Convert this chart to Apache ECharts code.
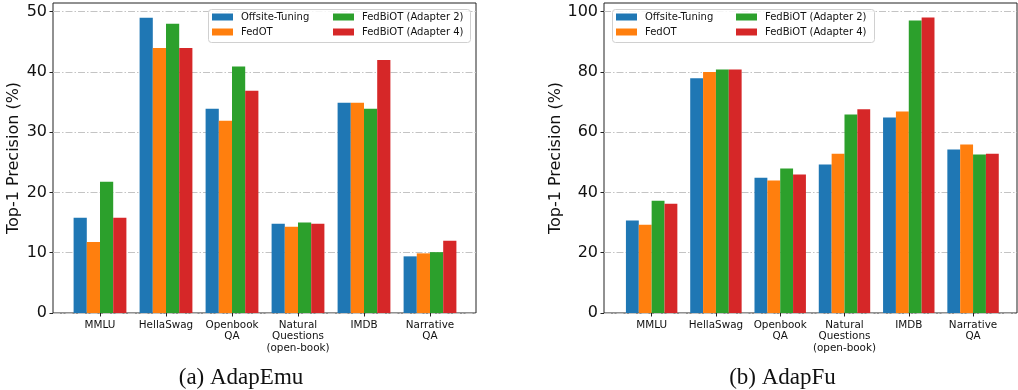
<!DOCTYPE html>
<html>
<head>
<meta charset="utf-8">
<script src="https://cdn.jsdelivr.net/npm/echarts@6/dist/echarts.min.js"></script>
<style>html,body{margin:0;padding:0;background:#fff;}#c{width:1018px;height:390px;}</style>
</head>
<body>
<div id="c"></div>
<script>
const categories = ['MMLU', 'HellaSwag', 'Openbook\nQA', 'Natural\nQuestions\n(open-book)', 'IMDB', 'Narrative\nQA'];
const seriesNames = ['Offsite-Tuning', 'FedOT', 'FedBiOT (Adapter 2)', 'FedBiOT (Adapter 4)'];
const colors = ['#1f77b4', '#ff7f0e', '#2ca02c', '#d62728'];

// (a) AdapEmu
const emuOffsite = [15.8, 49.0, 33.9, 14.8, 34.9, 9.4];
const emuFedOT   = [11.8, 44.0, 31.9, 14.3, 34.9, 9.9];
const emuAd2     = [21.8, 48.0, 40.9, 15.0, 33.9, 10.1];
const emuAd4     = [15.8, 44.0, 36.9, 14.8, 42.0, 12.0];
// (b) AdapFu
const fuOffsite = [30.7, 77.9, 44.9, 49.3, 64.9, 54.3];
const fuFedOT   = [29.3, 80.0, 44.0, 52.9, 66.9, 55.9];
const fuAd2     = [37.3, 80.8, 48.0, 65.9, 97.1, 52.6];
const fuAd4     = [36.3, 80.8, 46.0, 67.6, 98.1, 52.9];

const emuTicks = [0, 10, 20, 30, 40, 50];
const fuTicks = [0, 20, 40, 60, 80, 100];
const emuMax = 51.45;
const fuMax = 102.9;

const chart = echarts.init(document.getElementById('c'), null, {renderer: 'canvas'});
const font = 'DejaVu Sans';

function frameY(gridIndex, max, ticks, nameGap) {
  return {
    type: 'value', gridIndex: gridIndex, min: 0, max: max,
    interval: ticks[1] - ticks[0],
    name: 'Top-1 Precision (%)', nameLocation: 'middle', nameGap: nameGap,
    nameTextStyle: {fontFamily: font, fontSize: 16, color: '#111'},
    axisLine: {show: false},
    axisTick: {show: true, inside: false, length: 3.5, lineStyle: {color: '#222', width: 1}, customValues: ticks},
    axisLabel: {show: true, fontFamily: font, fontSize: 16, color: '#111', margin: 6, customValues: ticks,
      formatter: function (v) { return ticks.indexOf(v) >= 0 ? String(v) : ''; }},
    splitLine: {show: true, lineStyle: {color: '#c4c4c4', width: 1, type: [7, 2, 1.5, 2]}}
  };
}
function barY(gridIndex, max) {
  return {type: 'value', gridIndex: gridIndex, min: 0, max: max, show: false, splitLine: {show: false}};
}
function frameX(gridIndex) {
  return {type: 'value', gridIndex: gridIndex, min: 0, max: 1, show: false};
}
function barX(gridIndex) {
  return {
    type: 'category', gridIndex: gridIndex, data: categories,
    axisLine: {show: false},
    axisTick: {show: true, alignWithLabel: true, length: 3.5, lineStyle: {color: '#222', width: 1}},
    axisLabel: {fontFamily: font, fontSize: 10.4, lineHeight: 11.7, color: '#111', margin: 6, interval: 0},
    splitLine: {show: false}
  };
}
function barSeries(xi, values) {
  return values.map(function (vals, i) {
    return {
      type: 'bar', name: seriesNames[i], xAxisIndex: xi, yAxisIndex: xi, data: vals,
      barWidth: '20%', barGap: '0%', itemStyle: {color: colors[i]}, z: 2
    };
  });
}
function legend(left, names) {
  return {
    left: left, top: 12, orient: 'vertical', padding: 0, itemGap: 5,
    icon: 'rect', itemWidth: 21, itemHeight: 7, data: names, z: 8,
    textStyle: {fontFamily: font, fontSize: 10, color: '#111', padding: [0, 0, 0, 3]},
    selectedMode: false
  };
}

const option = {
  animation: false,
  backgroundColor: '#fff',
  grid: [
    {left: 53, top: 3, width: 423, height: 310, show: true, borderColor: '#222', borderWidth: 1, backgroundColor: 'transparent', containLabel: false},
    {left: 67, top: 3, width: 396, height: 310, show: false},
    {left: 604, top: 3, width: 413, height: 310, show: true, borderColor: '#222', borderWidth: 1, backgroundColor: 'transparent'},
    {left: 619.5, top: 3, width: 385.7, height: 310, show: false}
  ],
  xAxis: [frameX(0), barX(1), frameX(2), barX(3)],
  yAxis: [frameY(0, emuMax, emuTicks, 31), barY(1, emuMax), frameY(2, fuMax, fuTicks, 40), barY(3, fuMax)],
  legend: [
    legend(212, [seriesNames[0], seriesNames[1]]),
    legend(333, [seriesNames[2], seriesNames[3]]),
    legend(616, [seriesNames[0], seriesNames[1]]),
    legend(736, [seriesNames[2], seriesNames[3]])
  ],
  graphic: [
    {type: 'rect', shape: {x: 208.5, y: 9.5, width: 262, height: 33, r: 3}, z: 5,
     style: {fill: 'rgba(255,255,255,0.85)', stroke: '#d0d0d0', lineWidth: 1}},
    {type: 'rect', shape: {x: 612.5, y: 9.5, width: 262, height: 33, r: 3}, z: 5,
     style: {fill: 'rgba(255,255,255,0.85)', stroke: '#d0d0d0', lineWidth: 1}},
    {type: 'text', x: 241, y: 378, z: 5,
     style: {text: '(a) AdapEmu', font: '23px "Liberation Serif"', fill: '#111', textAlign: 'center', textVerticalAlign: 'middle'}},
    {type: 'text', x: 782.5, y: 378, z: 5,
     style: {text: '(b) AdapFu', font: '23px "Liberation Serif"', fill: '#111', textAlign: 'center', textVerticalAlign: 'middle'}}
  ],
  series: [].concat(
    barSeries(1, [emuOffsite, emuFedOT, emuAd2, emuAd4]),
    barSeries(3, [fuOffsite, fuFedOT, fuAd2, fuAd4])
  )
};
chart.setOption(option);
</script>
</body>
</html>
